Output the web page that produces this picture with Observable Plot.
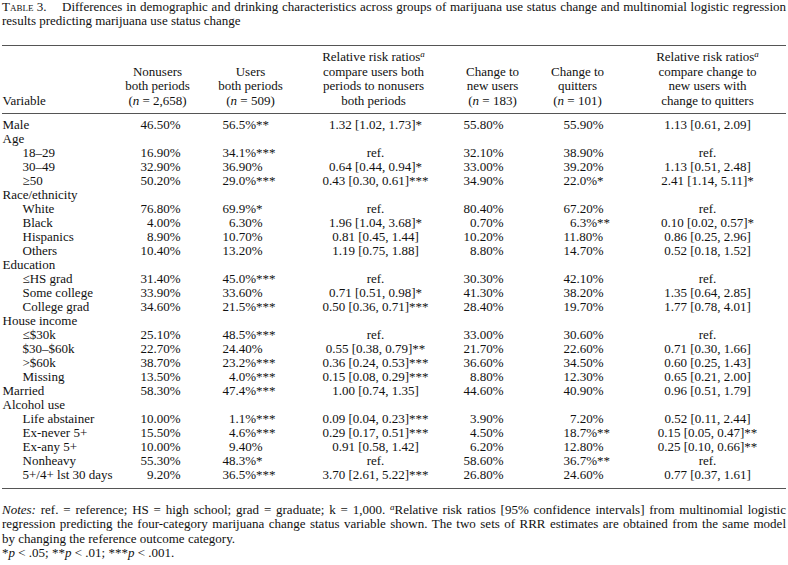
<!DOCTYPE html>
<html><head><meta charset="utf-8">
<script src="https://cdn.jsdelivr.net/npm/d3@7"></script>
<script src="https://cdn.jsdelivr.net/npm/@observablehq/plot@0.6"></script>
<style>
body{margin:0;background:#fff;font-family:"Liberation Serif","Times New Roman",serif;color:#111;width:788px;overflow:hidden}
.line{white-space:nowrap;font-size:13px;line-height:14px;height:14px;padding-left:2px}
.j{display:inline-block;white-space:nowrap}
.sc{font-variant:small-caps;display:inline-block;width:60px}
#notes{padding-top:3px}
#notes .line{line-height:14.3px;height:14.3px}
.sup{font-size:9px;vertical-align:4px;line-height:0;font-style:italic}
#chart svg{display:block}
</style></head><body>
<div id="title">
  <div class="line"><span class="sc">Table 3.</span><span class="j" data-right="786">Differences in demographic and drinking characteristics across groups of marijuana use status change and multinomial logistic regression</span></div>
  <div class="line">results predicting marijuana use status change</div>
</div>
<div id="chart"></div>
<div id="notes">
  <div class="line"><span class="j" data-right="786"><i>Notes:</i> ref. = reference; HS = high school; grad = graduate; k = 1,000. <span class="sup">a</span>Relative risk ratios [95% confidence intervals] from multinomial logistic</span></div>
  <div class="line"><span class="j" data-right="786">regression predicting the four-category marijuana change status variable shown. The two sets of RRR estimates are obtained from the same model</span></div>
  <div class="line">by changing the reference outcome category.</div>
  <div class="line">*<i>p</i> &lt; .05; **<i>p</i> &lt; .01; ***<i>p</i> &lt; .001.</div>
</div>
<script>
// ---------- data ----------
const variables = ["Male","Age","18–29","30–49","≥50","Race/ethnicity","White","Black","Hispanics","Others","Education","≤HS grad","Some college","College grad","House income","≤$30k","$30–$60k",">$60k","Missing","Married","Alcohol use","Life abstainer","Ex-never 5+","Ex-any 5+","Nonheavy","5+/4+ lst 30 days"];
const level = [0,0,1,1,1,0,1,1,1,1,0,1,1,1,0,1,1,1,1,0,0,1,1,1,1,1];
const nonusers = ["46.50%","","16.90%","32.90%","50.20%","","76.80%","4.00%","8.90%","10.40%","","31.40%","33.90%","34.60%","","25.10%","22.70%","38.70%","13.50%","58.30%","","10.00%","15.50%","10.00%","55.30%","9.20%"];
const users = ["56.5%**","","34.1%***","36.90%","29.0%***","","69.9%*","6.30%","10.70%","13.20%","","45.0%***","33.60%","21.5%***","","48.5%***","24.40%","23.2%***","4.0%***","47.4%***","","1.1%***","4.6%***","9.40%","48.3%*","36.5%***"];
const rrrUsers = ["1.32 [1.02, 1.73]*","","ref.","0.64 [0.44, 0.94]*","0.43 [0.30, 0.61]***","","ref.","1.96 [1.04, 3.68]*","0.81 [0.45, 1.44]","1.19 [0.75, 1.88]","","ref.","0.71 [0.51, 0.98]*","0.50 [0.36, 0.71]***","","ref.","0.55 [0.38, 0.79]**","0.36 [0.24, 0.53]***","0.15 [0.08, 0.29]***","1.00 [0.74, 1.35]","","0.09 [0.04, 0.23]***","0.29 [0.17, 0.51]***","0.91 [0.58, 1.42]","ref.","3.70 [2.61, 5.22]***"];
const newUsers = ["55.80%","","32.10%","33.00%","34.90%","","80.40%","0.70%","10.20%","8.80%","","30.30%","41.30%","28.40%","","33.00%","21.70%","36.60%","8.80%","44.60%","","3.90%","4.50%","6.20%","58.60%","26.80%"];
const quitters = ["55.90%","","38.90%","39.20%","22.0%*","","67.20%","6.3%**","11.80%","14.70%","","42.10%","38.20%","19.70%","","30.60%","22.60%","34.50%","12.30%","40.90%","","7.20%","18.7%**","12.80%","36.7%**","24.60%"];
const rrrNew = ["1.13 [0.61, 2.09]","","ref.","1.13 [0.51, 2.48]","2.41 [1.14, 5.11]*","","ref.","0.10 [0.02, 0.57]*","0.86 [0.25, 2.96]","0.52 [0.18, 1.52]","","ref.","1.35 [0.64, 2.85]","1.77 [0.78, 4.01]","","ref.","0.71 [0.30, 1.66]","0.60 [0.25, 1.43]","0.65 [0.21, 2.00]","0.96 [0.51, 1.79]","","0.52 [0.11, 2.44]","0.15 [0.05, 0.47]**","0.25 [0.10, 0.66]**","ref.","0.77 [0.37, 1.61]"];

const headVariable = ["Variable"];
const headNonusers = ["Nonusers","both periods","(n = 2,658)"];
const headUsers = ["Users","both periods","(n = 509)"];
const headRrrUsers = ["Relative risk ratios^a","compare users both","periods to nonusers","both periods"];
const headNewUsers = ["Change to","new users","(n = 183)"];
const headQuitters = ["Change to","quitters","(n = 101)"];
const headRrrNew = ["Relative risk ratios^a","compare change to","new users with","change to quitters"];

// ---------- layout (not data) ----------
const W = 788, H = 472;
const L = {left: 2, indent: 22, nonusersRight: 180, usersStart: 222, rrrUsers: 375, newUsersRight: 503,
  quittersStart: 563, rrrNew: 707, digit: 6.5, ruleX1: 2, ruleX2: 786,
  hVariable: 2, hNonusers: 157, hUsers: 250, hRrrUsers: 373, hNewUsers: 492, hQuitters: 577, hRrrNew: 707,
  headBottom: -24, headStep: 14.4, topRule: -79, headRule: -11, bottomRule: 14};
const font = {fontFamily: "Liberation Serif, Times New Roman, serif", fontSize: 13, fill: "#111"};

const rows = variables.map((v, i) => ({variable: v, level: level[i], nonusers: nonusers[i], users: users[i],
  rrrUsers: rrrUsers[i], newUsers: newUsers[i], quitters: quitters[i], rrrNew: rrrNew[i]}));

const headCols = [
  {lines: headVariable, x: L.hVariable, anchor: "start"},
  {lines: headNonusers, x: L.hNonusers, anchor: "middle"},
  {lines: headUsers, x: L.hUsers, anchor: "middle"},
  {lines: headRrrUsers, x: L.hRrrUsers, anchor: "middle"},
  {lines: headNewUsers, x: L.hNewUsers, anchor: "middle"},
  {lines: headQuitters, x: L.hQuitters, anchor: "middle"},
  {lines: headRrrNew, x: L.hRrrNew, anchor: "middle"}
];
const headCells = headCols.flatMap(c => c.lines.map((t, j) => ({text: t, x: c.x, anchor: c.anchor, k: c.lines.length - 1 - j})));

const first = variables[0], last = variables[variables.length - 1];
const decimalX = (start) => (s) => start + (2 - s.indexOf(".")) * L.digit;

const headMarks = [];
for (let k = 0; k < 4; k++) {
  for (const anchor of ["start", "middle"]) {
    const d = headCells.filter(c => c.k === k && c.anchor === anchor);
    if (d.length) headMarks.push(Plot.text(d, {x: "x", y: () => first, text: "text", textAnchor: anchor,
      dy: L.headBottom - k * L.headStep, ...font}));
  }
}

const rule = (v, dy) => Plot.ruleY([v], {y: d => d, dy, x1: L.ruleX1, x2: L.ruleX2, stroke: "#555", strokeWidth: 1.2});

const svg = Plot.plot({
  width: W, height: H, margin: 0,
  x: {domain: [0, W], range: [0, W], axis: null},
  y: {type: "point", domain: variables, range: [85, 456], padding: 0, axis: null},
  style: {background: "white", overflow: "visible"},
  marks: [
    rule(first, L.topRule),
    rule(first, L.headRule),
    rule(last, L.bottomRule),
    ...headMarks,
    Plot.text(rows, {x: d => d.level ? L.indent : L.left, y: "variable", text: "variable", textAnchor: "start", ...font}),
    Plot.text(rows.filter(d => d.nonusers), {x: () => L.nonusersRight, y: "variable", text: "nonusers", textAnchor: "end", ...font}),
    Plot.text(rows.filter(d => d.users), {x: d => decimalX(L.usersStart)(d.users), y: "variable", text: "users", textAnchor: "start", ...font}),
    Plot.text(rows.filter(d => d.rrrUsers), {x: () => L.rrrUsers, y: "variable", text: "rrrUsers", textAnchor: "middle", ...font}),
    Plot.text(rows.filter(d => d.newUsers), {x: () => L.newUsersRight, y: "variable", text: "newUsers", textAnchor: "end", ...font}),
    Plot.text(rows.filter(d => d.quitters), {x: d => decimalX(L.quittersStart)(d.quitters), y: "variable", text: "quitters", textAnchor: "start", ...font}),
    Plot.text(rows.filter(d => d.rrrNew), {x: () => L.rrrNew, y: "variable", text: "rrrNew", textAnchor: "middle", ...font})
  ]
});

// rich text: italic n, superscript a
const NS = "http://www.w3.org/2000/svg";
svg.querySelectorAll("text").forEach(t => {
  const s = t.textContent;
  if (s.endsWith("^a")) {
    t.textContent = s.slice(0, -2);
    const sp = document.createElementNS(NS, "tspan");
    sp.setAttribute("dy", "-4.5"); sp.setAttribute("font-size", "9"); sp.setAttribute("font-style", "italic");
    sp.textContent = "a";
    t.appendChild(sp);
  } else if (s.startsWith("(n = ")) {
    t.textContent = "(";
    const sp = document.createElementNS(NS, "tspan");
    sp.setAttribute("font-style", "italic"); sp.textContent = "n";
    t.appendChild(sp);
    t.appendChild(document.createTextNode(s.slice(2)));
  }
});
document.getElementById("chart").appendChild(svg);

// justify wide lines
document.querySelectorAll(".j").forEach(el => {
  el.style.wordSpacing = "0px";
  const r = el.getBoundingClientRect();
  const target = +el.dataset.right - r.left;
  const n = (el.textContent.match(/ /g) || []).length;
  if (n) el.style.wordSpacing = ((target - r.width) / n) + "px";
});
</script>
</body></html>
